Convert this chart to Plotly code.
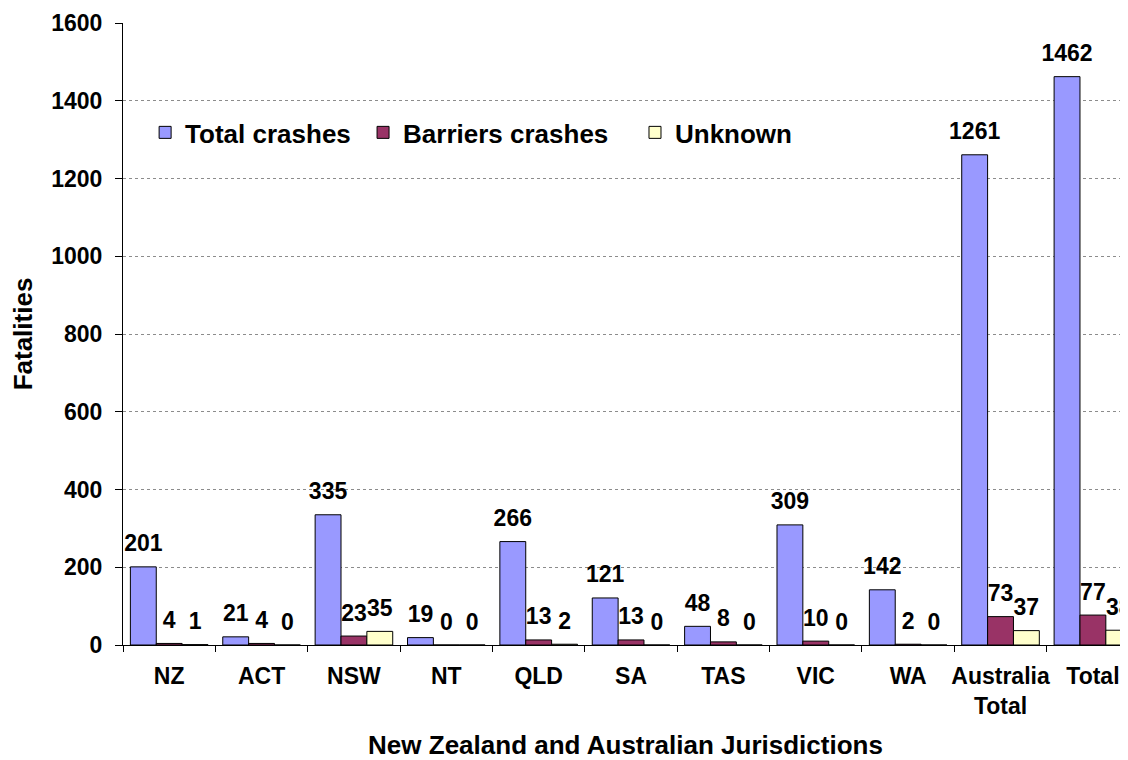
import plotly.graph_objects as go

categories = ["NZ", "ACT", "NSW", "NT", "QLD", "SA", "TAS", "VIC", "WA", "Australia<br>Total", "Total"]
total_crashes = [201, 21, 335, 19, 266, 121, 48, 309, 142, 1261, 1462]
barrier_crashes = [4, 4, 23, 0, 13, 13, 8, 10, 2, 73, 77]
unknown = [1, 0, 35, 0, 2, 0, 0, 0, 0, 37, 38]
series_names = ["Total crashes", "Barriers crashes", "Unknown"]
legend_pad = ["\u00a0", "\u00a0\u00a0\u00a0", ""]

FONT = "Liberation Sans, Arial, sans-serif"
colors = ["#9999FF", "#993366", "#FFFFCC"]
all_vals = [total_crashes, barrier_crashes, unknown]

fig = go.Figure()
for i, (name, pad, vals, color) in enumerate(zip(series_names, legend_pad, all_vals, colors)):
    fig.add_trace(go.Bar(
        name="<b>" + name + "</b>" + pad, x=categories, y=vals,
        marker=dict(color=color, line=dict(color="#000000", width=1)),
        offsetgroup=str(i), legendgroup=str(i),
    ))
for i, vals in enumerate(all_vals):
    fig.add_trace(go.Scatter(
        x=categories, y=vals, mode="markers+text",
        text=["<b>%d</b>" % v for v in vals], textposition="top center",
        textfont=dict(family=FONT, size=23, color="#000000"),
        marker=dict(size=14, opacity=0), showlegend=False,
        offsetgroup=str(i), legendgroup=str(i), cliponaxis=False, hoverinfo="skip",
    ))

# the page body adds an 8px offset, so the figure is 8px smaller than the window
fig.update_layout(
    width=1120, height=752,
    barmode="group", bargap=0.16, bargroupgap=0,
    scattermode="group", scattergap=0.16,
    paper_bgcolor="white", plot_bgcolor="white",
    margin=dict(l=115, r=0, t=15, b=115, autoexpand=False),
    font=dict(family=FONT, color="#000000"),
    legend=dict(
        orientation="h", x=0.022, y=0.824, xanchor="left", yanchor="middle",
        font=dict(family=FONT, size=26, color="#000000"),
        bgcolor="rgba(0,0,0,0)", itemwidth=30, traceorder="normal",
    ),
    showlegend=True,
)

fig.update_xaxes(
    tickfont=dict(family=FONT, size=23),
    tickprefix="<b>", ticksuffix="</b>", tickangle=0,
    showline=True, linecolor="#000000", linewidth=1,
    ticks="outside", tickson="boundaries", ticklen=6, tickcolor="#000000",
    ticklabelstandoff=10,
    range=[-0.5, 10.38], automargin=False,
    title=dict(text="<b>New Zealand and Australian Jurisdictions</b>", font=dict(family=FONT, size=26), standoff=24),
)
fig.update_yaxes(
    range=[0, 1600], dtick=200,
    tickfont=dict(family=FONT, size=23), tickprefix="<b>", ticksuffix="</b>",
    showline=True, linecolor="#000000", linewidth=1,
    ticks="outside", ticklen=7, tickcolor="#000000",
    ticklabelstandoff=8,
    showgrid=True, gridcolor="#8c8c8c", griddash="dot", gridwidth=1,
    zeroline=False, automargin=False,
    title=dict(text="<b>Fatalities</b>", font=dict(family=FONT, size=26), standoff=16),
)

fig.write_html("out.html")
